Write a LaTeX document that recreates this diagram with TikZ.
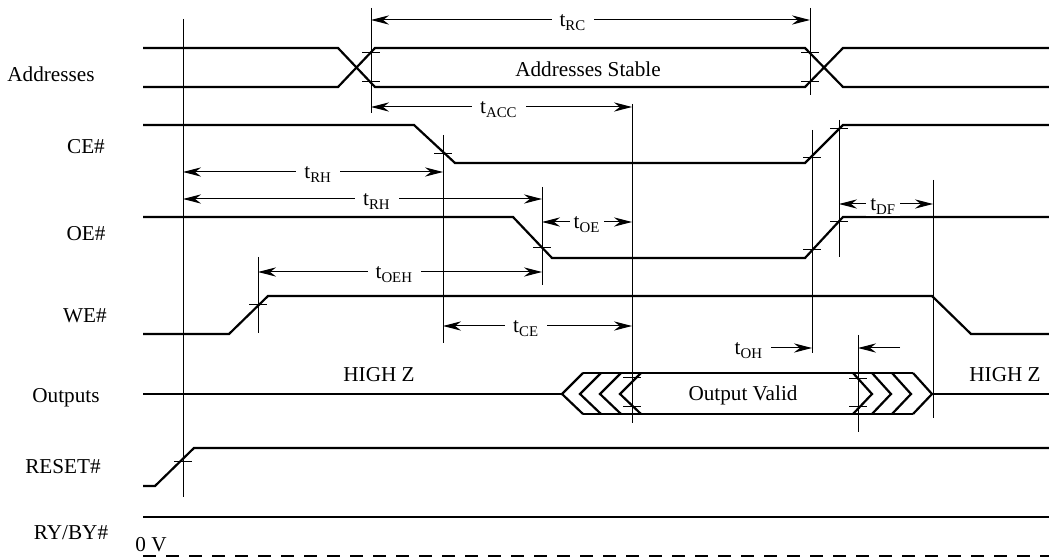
\documentclass[tikz,border=0pt]{standalone}
\usepackage{fontspec}
\setmainfont{Liberation Serif}
\usetikzlibrary{arrows.meta}

\begin{document}
\begin{tikzpicture}[x=0.5pt,y=-0.5pt,>={Stealth[length=9pt,width=4.6pt]},font=\fontsize{10.6}{12}\selectfont,
    wave/.style={line width=1.1pt},thin line/.style={line width=0.5pt},
    dim/.style={draw,thin line,<->},
    lbl/.style={fill=white,anchor=base,yshift=-3.5pt,inner xsep=4pt,inner ysep=1pt},
    sig/.style={anchor=base}]
            \useasboundingbox (0,0) rectangle (1049,560);

            \node[sig] (addr) at (51,82) {Addresses};
            \node[sig] (ce) at (86,154) {CE\#};
            \node[sig] (oe) at (86,241) {OE\#};
            \node[sig] (we) at (85,323) {WE\#};
            \node[sig] (out) at (66,403) {Outputs};
            \node[sig] (rst) at (63,474) {RESET\#};
            \node[sig] (rdy) at (71,539) {RY/BY\#};
            \node[sig] (zero) at (151,552) {0 V};

            \node[sig] (stable) at (588,77) {Addresses Stable};
            \node[sig] (valid) at (743,401) {Output Valid};
            \node[sig] (hz1) at (379,382) {HIGH Z};
            \node[sig] (hz2) at (1005,382) {HIGH Z};

            \draw[wave] (143,48) -- (338,48) -- (375,87) -- (805,87) -- (843,48) -- (1049,48);
            \draw[wave] (143,87) -- (338,87) -- (375,48) -- (805,48) -- (843,87) -- (1049,87);
            \draw[wave] (143,125) -- (414,125) -- (455,163) -- (805,163) -- (843,125) -- (1049,125);
            \draw[wave] (143,217) -- (513,217) -- (552,258) -- (805,258) -- (843,217) -- (1049,217);
            \draw[wave] (143,334) -- (229,334) -- (268,296) -- (932,296) -- (971,334) -- (1049,334);
            \draw[wave] (143,394) -- (562,394) (932,394) -- (1049,394);
            \draw[wave] (583,373) -- (913,373) (583,414) -- (913,414);
            \foreach \x in {562,580,600,620}
                \draw[wave] (\x+21,373) -- (\x,394) -- (\x+21,414);
            \foreach \x in {853,872,892,913}
                \draw[wave] (\x,373) -- (\x+19,394) -- (\x,414);
            \draw[wave] (143,486) -- (155,486) -- (194,448) -- (1049,448);
            \draw[wave] (143,517) -- (1049,517);
            \draw[wave,dash pattern=on 6.5pt off 5pt] (143,556) -- (1049,556);

            \foreach \x/\a/\b in {183/19/497,371/8/113,443/135/343,542/187/285,632/104/423,258/257/333,
                                  810/8/95,812/130/353,839/120/257,933/180/418,858/335/432}
                \draw[thin line] (\x,\a) -- (\x,\b);
            \foreach \x/\y in {371/53,371/82,810/53,810/82,443/154,542/248,258/305,183/462,812/158,
                               839/129,812/250,839/222,632/378,632/407,858/379,858/407}
                \draw[thin line] (\x-9,\y) -- (\x+9,\y);

            \coordinate (rc1) at (371,20);  \coordinate (rc2) at (810,20);
            \coordinate (acc1) at (371,107); \coordinate (acc2) at (632,107);
            \coordinate (rh1) at (183,172); \coordinate (rh2) at (443,172);
            \coordinate (rh3) at (183,199); \coordinate (rh4) at (542,199);
            \coordinate (oe1) at (542,222); \coordinate (oe2) at (632,222);
            \coordinate (oeh1) at (258,272); \coordinate (oeh2) at (542,272);
            \coordinate (ce1) at (443,326); \coordinate (ce2) at (632,326);
            \coordinate (df1) at (839,204); \coordinate (df2) at (933,204);
            \coordinate (oh1) at (735,348); \coordinate (oh2) at (812,348);
            \coordinate (oh3) at (900,348); \coordinate (oh4) at (858,348);

            \path
                (rc1) edge[dim] node[lbl,pos=0.46] {t\textsubscript{RC}} (rc2)
                (acc1) edge[dim] node[lbl,pos=0.49] {t\textsubscript{ACC}} (acc2)
                (rh1) edge[dim] node[lbl,pos=0.52] {t\textsubscript{RH}} (rh2)
                (rh3) edge[dim] node[lbl,pos=0.54] {t\textsubscript{RH}} (rh4)
                (oe1) edge[dim] node[lbl,inner xsep=2pt] {t\textsubscript{OE}} (oe2)
                (oeh1) edge[dim] node[lbl,pos=0.48] {t\textsubscript{OEH}} (oeh2)
                (ce1) edge[dim] node[lbl,pos=0.44] {t\textsubscript{CE}} (ce2)
                (df1) edge[dim] node[lbl,pos=0.47,inner xsep=2pt] {t\textsubscript{DF}} (df2)
                (oh1) edge[draw,thin line,->] node[lbl,pos=0.18] {t\textsubscript{OH}} (oh2)
                (oh3) edge[draw,thin line,->] (oh4)
                ;
        \end{tikzpicture}
\end{document}
